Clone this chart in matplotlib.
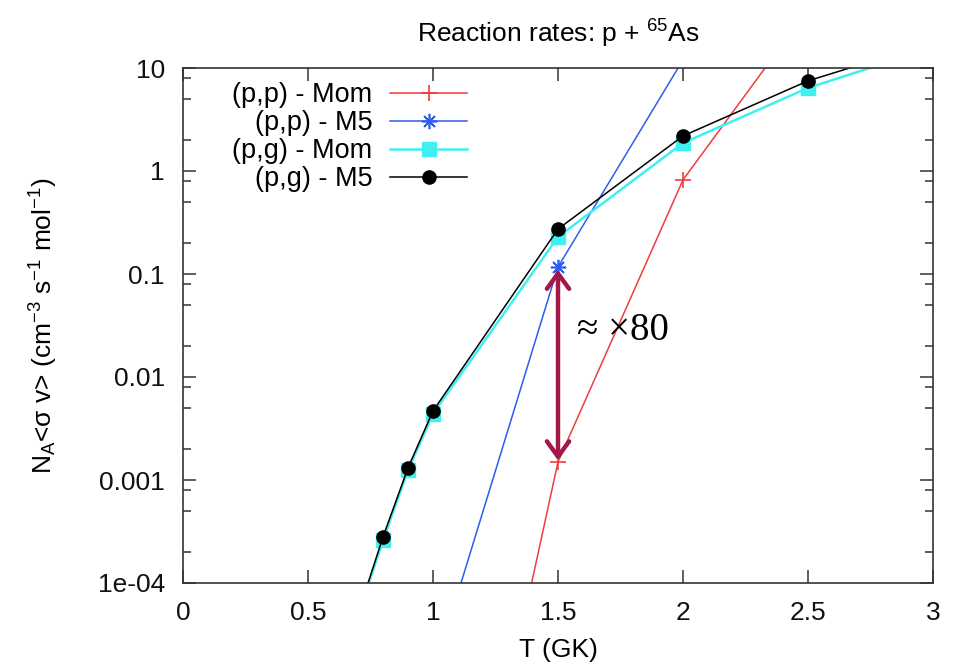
"""
Reaction rates p + 65As : Mom vs M5 (gnuplot-like look)
"""

import numpy as np
import matplotlib
matplotlib.use("Agg")
import matplotlib.pyplot as plt
from matplotlib.ticker import LogLocator, NullFormatter


# DATA
T_PP = [1.0, 1.5, 2.0, 2.5]
PP_MOM = [4e-9, 1.5e-3, 0.82, 37.0]
PP_M5 = [1.3e-5, 0.117, 12.0, 300.0]

T_PG = [0.7, 0.8, 0.9, 1.0, 1.5, 2.0, 2.5, 3.0]
PG_MOM = [4.8e-5, 2.6e-4, 1.24e-3, 4.4e-3, 0.229, 1.87, 6.4, 15.8]
PG_M5 = [5.0e-5, 2.8e-4, 1.31e-3, 4.68e-3, 0.273, 2.19, 7.5, 17.8]

LABELS = ["(p,p) - Mom", "(p,p) - M5", "(p,g) - Mom", "(p,g) - M5"]
XTICKS = [0, 0.5, 1, 1.5, 2, 2.5, 3]
XTICK_LABELS = ["0", "0.5", "1", "1.5", "2", "2.5", "3"]
YTICKS = [1e-4, 1e-3, 1e-2, 1e-1, 1, 10]
YTICK_LABELS = ["1e-04", "0.001", "0.01", "0.1", "1", "10"]

# ratio arrow between the two (p,p) rates at 1.5 GK
ARROW_X = 1.5
ARROW_TOP = 0.11
ARROW_BOTTOM = 1.55e-3


# STYLE
plt.rcParams['font.family'] = ['Liberation Sans', 'DejaVu Sans']
plt.rcParams['mathtext.fontset'] = 'custom'
plt.rcParams['mathtext.rm'] = 'Liberation Sans'
plt.rcParams['mathtext.it'] = 'Liberation Sans:italic'
plt.rcParams['mathtext.bf'] = 'Liberation Sans:bold'
FS = 19


# VIEW
fig = plt.figure(figsize=(9.58, 6.65), dpi=100)
ax = fig.add_axes([183 / 958, 1 - 583 / 665, 750 / 958, 515 / 665])

ax.plot(T_PP, PP_MOM, color='#f03c3c', lw=1.1, marker='+', ms=11, mew=1.2,
        label=LABELS[0])
ax.plot(T_PP, PP_M5, color='#2e5cf0', lw=1.1, marker=(8, 2, 0), ms=11, mew=1.2,
        label=LABELS[1])
ax.plot(T_PG, PG_MOM, color='#40f0f0', lw=1.8, marker='s', ms=9.5,
        label=LABELS[2])
ax.plot(T_PG, PG_M5, color='black', lw=1.1, marker='o', ms=9.5,
        label=LABELS[3])

ax.set_yscale('log')
ax.set_xlim(0, 3)
ax.set_ylim(1e-4, 10)
ax.set_xticks(XTICKS, XTICK_LABELS)
ax.set_yticks(YTICKS, YTICK_LABELS)
ax.yaxis.set_minor_locator(LogLocator(base=10, subs=[2, 5, 8]))
ax.yaxis.set_minor_formatter(NullFormatter())

ax.tick_params(which='both', direction='in', top=True, right=True,
               color='#333333', width=1.1, labelsize=FS, labelcolor='#111111')
ax.tick_params(which='major', length=9.5)
ax.tick_params(which='minor', length=6)
ax.tick_params(axis='y', pad=13)
ax.tick_params(axis='x', pad=13)
for sp in ax.spines.values():
    sp.set_color('#333333')
    sp.set_linewidth(1.2)

ax.set_xlabel("T (GK)", fontsize=FS, labelpad=9)
ax.set_ylabel(r"N$_\mathregular{A}$<σ v> (cm$^\mathregular{-3}$ s$^\mathregular{-1}$ mol$^\mathregular{-1}$)",
              fontsize=FS, labelpad=27)
ax.set_title(r"Reaction rates: p + $^\mathregular{65}$As", fontsize=FS, pad=18)

leg = ax.legend(loc='upper right', bbox_to_anchor=(0.379, 0.972),
                frameon=False, fontsize=19.5, markerfirst=False,
                handlelength=2.85, handletextpad=0.65, labelspacing=0.07,
                borderpad=0, borderaxespad=0)

# arrow + annotation
ax.annotate("", xy=(ARROW_X, ARROW_BOTTOM), xytext=(ARROW_X, ARROW_TOP),
            arrowprops=dict(arrowstyle="<->, head_length=1.1, head_width=0.8",
                            color='#a3174a', lw=3.2, shrinkA=0, shrinkB=0,
                            mutation_scale=10))
ax.text(1.575, 0.028, "≈ ×80", fontsize=28, va='center', ha='left',
        family=['Liberation Serif', 'DejaVu Serif'])

plt.savefig("out.png", dpi=100)
